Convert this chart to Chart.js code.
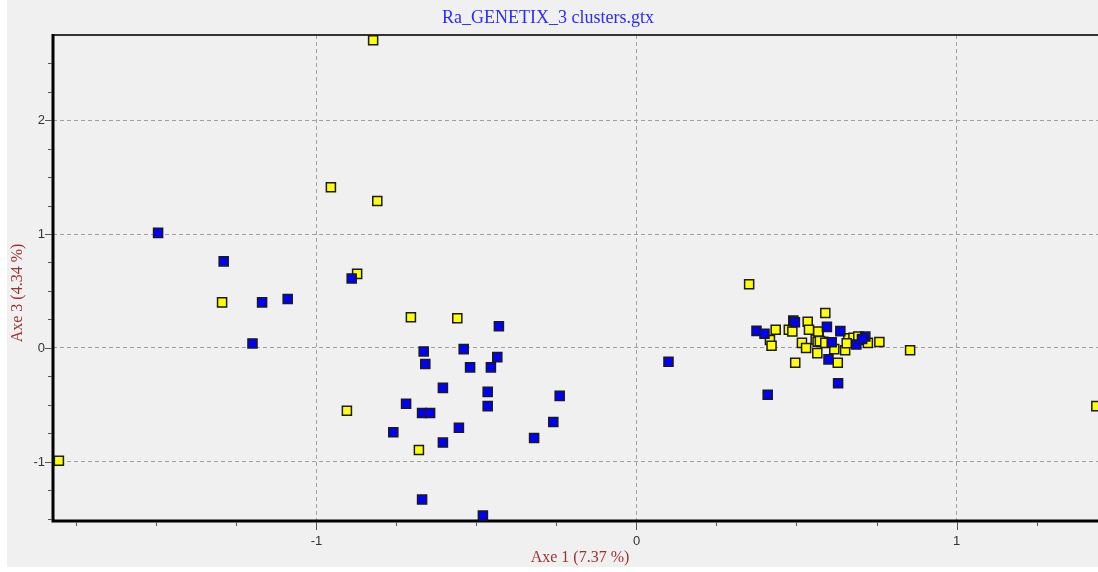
<!DOCTYPE html>
<html>
<head>
<meta charset="utf-8">
<script src="https://cdn.jsdelivr.net/npm/chart.js@4/dist/chart.umd.min.js"></script>
<style>
  html, body { margin: 0; padding: 0; background: #fff; overflow: hidden; }
  #wrap { position: absolute; left: 7px; top: 0; width: 1110px; height: 567px; background: #f0f0f0; }
</style>
</head>
<body>
<div id="wrap"><canvas id="chart-canvas" width="1110" height="567"></canvas></div>
<script>
// chart texts
var chartTitle = "Ra_GENETIX_3 clusters.gtx";
var xTitle = "Axe 1 (7.37 %)";
var yTitle = "Axe 3 (4.34 %)";

// axis ranges and tick step (tick labels only on whole numbers: -1, 0, 1, 2)
var xRange = [-1.8234, 1.4703];
var yRange = [-1.518, 2.746];
var tickStep = 0.25;

// cluster 1 (blue)
var blueX = [-1.495, -1.29, -1.17, -1.09, -1.20, -0.89, -0.43, -0.665, -0.54, -0.66,
             -0.52, -0.455, -0.435, -0.605, -0.465, -0.72, -0.67, -0.645, -0.465, -0.555,
             -0.76, -0.605, -0.32, -0.26, -0.24, -0.67, -0.48,
             0.10, 0.41, 0.375, 0.40, 0.49, 0.495, 0.595, 0.637, 0.61, 0.687, 0.715, 0.705,
             0.60, 0.63];
var blueY = [1.01, 0.76, 0.40, 0.43, 0.04, 0.61, 0.19, -0.03, -0.01, -0.14,
             -0.17, -0.17, -0.08, -0.35, -0.385, -0.49, -0.57, -0.57, -0.51, -0.70,
             -0.74, -0.83, -0.79, -0.65, -0.42, -1.33, -1.47,
             -0.12, -0.41, 0.15, 0.125, 0.24, 0.225, 0.185, 0.148, 0.05, 0.03, 0.10, 0.078,
             -0.10, -0.31];

// cluster 2 (yellow)
var yellowX = [-0.823, -0.955, -0.81, -0.873, -1.295, -0.705, -0.56, -0.905, -0.68, -1.805,
               1.437,
               0.352, 0.435, 0.417, 0.422, 0.476, 0.487, 0.535, 0.539, 0.569, 0.59,
               0.56, 0.517, 0.53, 0.565, 0.584, 0.618, 0.652, 0.629, 0.662, 0.678,
               0.693, 0.705, 0.723, 0.759, 0.855, 0.496, 0.566, 0.573, 0.59, 0.657, 0.568];
var yellowY = [2.70, 1.41, 1.29, 0.65, 0.40, 0.27, 0.26, -0.55, -0.895, -0.99,
               -0.51,
               0.56, 0.16, 0.07, 0.02, 0.16, 0.145, 0.23, 0.16, 0.13, 0.307,
               0.075, 0.045, 0.00, -0.045, 0.055, -0.01, -0.02, -0.13, 0.085, 0.09,
               0.10, 0.07, 0.045, 0.053, -0.02, -0.13, 0.055, 0.06, 0.045, 0.041, 0.145];

function toPoints(xs, ys) {
    return xs.map(function (x, i) { return { x: x, y: ys[i] }; });
}

function isMajor(v) { return Math.abs(v - Math.round(v)) < 1e-9; }

// frame, tick marks and text drawn around the plot area
var decor = {
    id: 'decor',
    beforeDatasetsDraw: function (chart) {
        var a = chart.chartArea, c = chart.ctx;
        c.save();
        c.strokeStyle = '#333';
        c.lineWidth = 2;
        c.beginPath(); c.moveTo(a.left, a.top); c.lineTo(a.right + 20, a.top); c.stroke();
        c.strokeStyle = '#000';
        c.lineWidth = 3;
        c.beginPath(); c.moveTo(a.left, a.top - 1); c.lineTo(a.left, a.bottom); c.lineTo(a.right + 20, a.bottom); c.stroke();
        c.restore();
    },
    afterDraw: function (chart) {
        var a = chart.chartArea, c = chart.ctx;
        var xs = chart.scales.x, ys = chart.scales.y;
        c.save();
        c.strokeStyle = '#555';
        c.lineWidth = 1;
        xs.ticks.forEach(function (t) {
            var px = Math.round(xs.getPixelForValue(t.value)) + 0.5;
            var len = isMajor(t.value) ? 8 : 4;
            c.beginPath(); c.moveTo(px, a.bottom + 1); c.lineTo(px, a.bottom + 1 + len); c.stroke();
        });
        ys.ticks.forEach(function (t) {
            var py = Math.round(ys.getPixelForValue(t.value)) + 0.5;
            var len = isMajor(t.value) ? 7 : 4;
            c.beginPath(); c.moveTo(a.left - 1, py); c.lineTo(a.left - 1 - len, py); c.stroke();
        });

        c.fillStyle = '#2b2bff';
        c.font = '18px "Liberation Serif", "Times New Roman", serif';
        c.textAlign = 'center';
        c.textBaseline = 'middle';
        c.fillText(chartTitle, 541, 18);

        c.fillStyle = '#993333';
        c.font = '16px "Liberation Serif", "Times New Roman", serif';
        c.translate(11, 293);
        c.rotate(-Math.PI / 2);
        c.fillText(yTitle, 0, 0);
        c.restore();
    }
};

var ctx = document.getElementById('chart-canvas').getContext('2d');
var myChart = new Chart(ctx, {
    type: 'scatter',
    data: {
        datasets: [
            {
                label: "Cluster 1",
                data: toPoints(blueX, blueY),
                pointStyle: 'rect',
                pointRadius: 6.4,
                pointHoverRadius: 6.4,
                backgroundColor: "#0000ff",
                borderColor: "#1a1a1a",
                borderWidth: 1.5,
                clip: false
            },
            {
                label: "Cluster 2",
                data: toPoints(yellowX, yellowY),
                pointStyle: 'rect',
                pointRadius: 6.4,
                pointHoverRadius: 6.4,
                backgroundColor: "#ffff00",
                borderColor: "#1a1a1a",
                borderWidth: 1.5,
                clip: false
            }
        ]
    },
    options: {
        responsive: false,
        animation: false,
        layout: { padding: { top: 35, right: 10, left: 0, bottom: 0 } },
        plugins: {
            legend: { display: false },
            tooltip: { enabled: false }
        },
        scales: {
            x: {
                type: 'linear',
                min: xRange[0],
                max: xRange[1],
                afterFit: function (s) { s.height = 46; },
                border: { display: false, dash: [4, 3] },
                grid: {
                    drawTicks: false,
                    color: function (c) { return c.tick && isMajor(c.tick.value) ? '#a0a0a0' : 'rgba(0,0,0,0)'; }
                },
                ticks: {
                    stepSize: tickStep,
                    includeBounds: false,
                    autoSkip: false,
                    maxRotation: 0,
                    padding: 13,
                    color: '#333',
                    font: { family: '"Liberation Sans", Arial, sans-serif', size: 13 },
                    callback: function (v) { return isMajor(v) ? String(Math.round(v)) : ''; }
                },
                title: {
                    display: true,
                    text: xTitle,
                    color: '#993333',
                    padding: { top: 0, bottom: 0 },
                    font: { family: '"Liberation Serif", "Times New Roman", serif', size: 16 }
                }
            },
            y: {
                type: 'linear',
                min: yRange[0],
                max: yRange[1],
                afterFit: function (s) { s.width = 46; },
                border: { display: false, dash: [4, 3] },
                grid: {
                    drawTicks: false,
                    color: function (c) { return c.tick && isMajor(c.tick.value) ? '#a0a0a0' : 'rgba(0,0,0,0)'; }
                },
                ticks: {
                    stepSize: tickStep,
                    includeBounds: false,
                    autoSkip: false,
                    padding: 8,
                    color: '#333',
                    font: { family: '"Liberation Sans", Arial, sans-serif', size: 13 },
                    callback: function (v) { return isMajor(v) ? String(Math.round(v)) : ''; }
                }
            }
        }
    },
    plugins: [decor]
});
</script>
</body>
</html>
